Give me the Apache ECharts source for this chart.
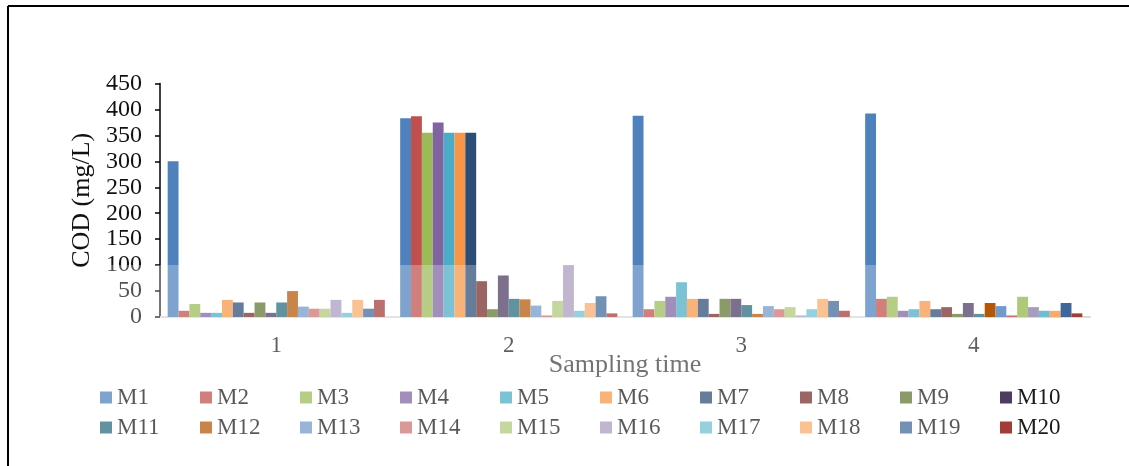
<!DOCTYPE html>
<html>
<head>
<meta charset="utf-8">
<script src="https://cdn.jsdelivr.net/npm/echarts@6/dist/echarts.min.js"></script>
<style>
  html, body { margin: 0; padding: 0; background: #fff; }
  #chart { width: 1129px; height: 466px; }
</style>
</head>
<body>
<div id="chart"></div>
<script>
// Sampling rounds on the x axis
const samplingTimes = ['1', '2', '3', '4'];

// COD (mg/L) per monitoring point, one value per sampling round
const M1  = [300, 383, 388, 392];
const M2  = [12, 387, 15, 35];
const M3  = [25, 355, 31, 39];
const M4  = [8, 375, 39, 12];
const M5  = [8, 355, 67, 15];
const M6  = [33, 355, 35, 31];
const M7  = [28, 355, 35, 15];
const M8  = [8, 69, 6, 19];
const M9  = [28, 15, 35, 6];
const M10 = [8, 80, 35, 27];
const M11 = [28, 35, 23, 6];
const M12 = [50, 34, 6, 27];
const M13 = [20, 22, 21, 21];
const M14 = [16, 3, 15, 3];
const M15 = [16, 31, 19, 39];
const M16 = [33, 100, 3, 19];
const M17 = [8, 12, 15, 12];
const M18 = [33, 27, 35, 12];
const M19 = [16, 40, 31, 27];
const M20 = [33, 7, 12, 7];

const pointNames = ['M1','M2','M3','M4','M5','M6','M7','M8','M9','M10',
                    'M11','M12','M13','M14','M15','M16','M17','M18','M19','M20'];
const pointValues = [M1,M2,M3,M4,M5,M6,M7,M8,M9,M10,
                     M11,M12,M13,M14,M15,M16,M17,M18,M19,M20];

// Y axis range and step
const yMin = 0, yMax = 450, yStep = 50;

const palette = [
  '#4F81BD', '#C0504D', '#9BBB59', '#8064A2', '#4BACC6',
  '#F79646', '#2C4D75', '#772C2A', '#5F7530', '#4D3B62',
  '#276A7C', '#B65708', '#729ACA', '#CD7371', '#AFC97A',
  '#A99BBD', '#6FBDD1', '#F9AB6B', '#3F679A', '#A33B38'
];

const serif = '"Liberation Serif", "Times New Roman", serif';

const chart = echarts.init(document.getElementById('chart'), null, { renderer: 'canvas' });

const series = pointNames.map((name, i) => ({
  name: name,
  type: 'bar',
  data: pointValues[i],
  barGap: '0%',
  barCategoryGap: '6.6%',
  itemStyle: { color: palette[i] },
  emphasis: { disabled: true }
}));

chart.setOption({
  animation: false,
  color: palette,
  grid: { left: 160, right: 39, top: 83.5, bottom: 149, containLabel: false },
  xAxis: {
    type: 'category',
    data: samplingTimes,
    name: 'Sampling time',
    nameLocation: 'middle',
    nameGap: 35,
    nameMoveOverlap: false,
    nameTextStyle: { fontFamily: serif, fontSize: 26, color: '#404040' },
    axisLine: { show: true, lineStyle: { color: '#D9D9D9', width: 2 } },
    axisTick: { show: false },
    axisLabel: { fontFamily: serif, fontSize: 23, color: '#262626', margin: 17 },
    splitLine: { show: false }
  },
  yAxis: {
    type: 'value',
    min: yMin,
    max: yMax,
    interval: yStep,
    name: 'COD (mg/L)',
    nameLocation: 'middle',
    nameGap: 64,
    nameRotate: 90,
    nameTextStyle: { fontFamily: serif, fontSize: 26, color: '#111' },
    axisLine: { show: true, lineStyle: { color: '#000', width: 1.5 } },
    axisTick: { show: true, inside: false, length: 5, lineStyle: { color: '#000', width: 1.5 } },
    axisLabel: { fontFamily: serif, fontSize: 24, color: '#111', margin: 18 },
    splitLine: { show: false }
  },
  legend: {
    data: pointNames,
    left: 100,
    top: 385,
    width: 1010,
    padding: 0,
    orient: 'horizontal',
    itemWidth: 12,
    itemHeight: 12,
    itemGap: 5,
    icon: 'rect',
    selectedMode: false,
    textStyle: {
      fontFamily: serif,
      fontSize: 23,
      color: '#1a1a1a',
      width: 78,
      lineHeight: 25
    }
  },
  series: series
});

// Frame lines on the left and top edges, plus the soft white haze over the lower band
const hazeTop = chart.convertToPixel({ yAxisIndex: 0 }, 100);
chart.setOption({
  graphic: [
    {
      type: 'line', z: 100,
      shape: { x1: 8, y1: 6, x2: 1129, y2: 6 },
      style: { stroke: '#000', lineWidth: 2 }
    },
    {
      type: 'line', z: 100,
      shape: { x1: 8, y1: 6, x2: 8, y2: 466 },
      style: { stroke: '#000', lineWidth: 2 }
    },
    {
      type: 'rect', z: 90, silent: true,
      shape: { x: 90, y: hazeTop, width: 895, height: 466 - hazeTop },
      style: { fill: 'rgba(255,255,255,0.27)' }
    }
  ]
});
</script>
</body>
</html>
